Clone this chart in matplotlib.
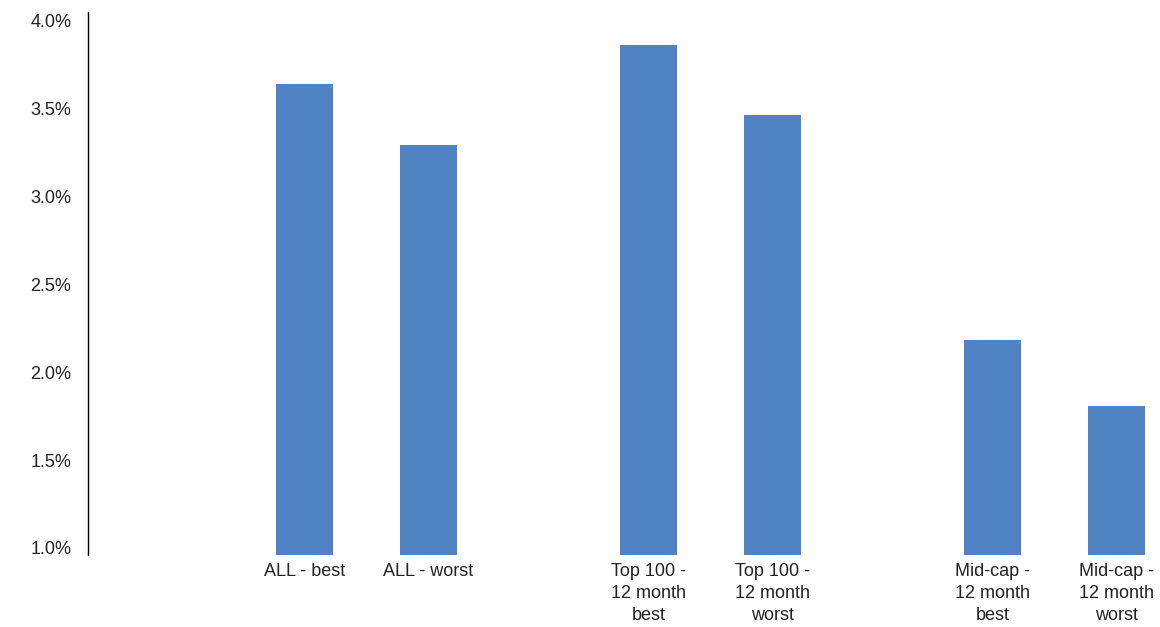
import matplotlib
matplotlib.use('Agg')
import matplotlib.pyplot as plt
import numpy as np
from matplotlib.ticker import FuncFormatter

labels = ['ALL - best', 'ALL - worst',
          'Top 100 -\n12 month\nbest', 'Top 100 -\n12 month\nworst',
          'Mid-cap -\n12 month\nbest', 'Mid-cap -\n12 month\nworst']
values = [3.64, 3.29, 3.86, 3.46, 2.18, 1.81]
yticks = [1.0, 1.5, 2.0, 2.5, 3.0, 3.5, 4.0]

plt.rcParams['font.family'] = ['Liberation Sans', 'DejaVu Sans']

# pairs of bars, bigger gap between the groups
group = np.array([0, 0, 1, 1, 2, 2])
member = np.array([0, 1, 0, 1, 0, 1])
pos = 1.746 + group * 2.774 + member

fig = plt.figure(figsize=(11.6, 6.27), dpi=100)
ax = fig.add_axes([88 / 1160, 72 / 627, 1 - 88 / 1160, (627 - 12 - 72) / 627])
ax.bar(pos, values, width=0.46, color='#4f83c4', bottom=0)
ax.set_xlim(0, (1160 - 88) / 124)
ax.set_ylim(0.96, 4.048)
ax.set_yticks(yticks)
ax.yaxis.set_major_formatter(FuncFormatter(lambda v, p: '%.1f%%' % v))
ax.set_xticks(pos)
ax.set_xticklabels(labels, linespacing=1.38)
for s in ['top', 'right', 'bottom']:
    ax.spines[s].set_visible(False)
ax.spines['left'].set_color('black')
ax.spines['left'].set_linewidth(1.0)
ax.tick_params(axis='y', length=0, pad=12, labelsize=13, labelcolor='#222222')
ax.tick_params(axis='x', length=0, pad=6, labelsize=13, labelcolor='#222222')

fig.savefig('out.png', dpi=100)
